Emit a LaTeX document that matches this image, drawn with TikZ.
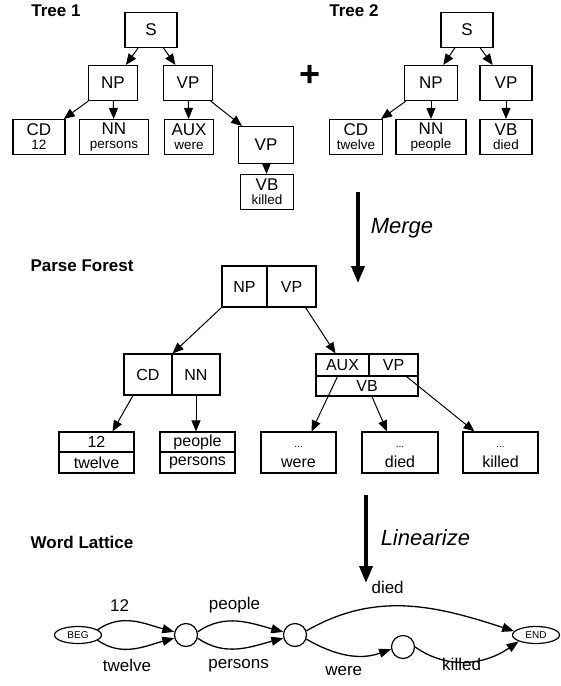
\documentclass[tikz,border=0pt]{standalone}
\usepackage{fontspec}
\setmainfont{Liberation Sans}
\usetikzlibrary{arrows.meta}
\usetikzlibrary{shapes.geometric}

\newcommand{\catfont}{\fontsize{17}{17}\selectfont}
\newcommand{\wordfont}{\fontsize{13.5}{13.5}\selectfont}
\newcommand{\leaffont}{\fontsize{16}{16}\selectfont}
\newcommand{\edgefont}{\fontsize{17}{17}\selectfont}
\newcommand{\headfont}{\fontsize{17}{17}\selectfont\bfseries}
\newcommand{\dotsfont}{\fontsize{10}{10}\selectfont}

\tikzset{
  cat/.style={draw, line width=1.1pt, inner sep=0pt, align=center, minimum height=35pt, font=\catfont},
  cell/.style={draw, line width=1.1pt, inner sep=0pt, align=center, font=\leaffont},
  heading/.style={font=\headfont, inner sep=1pt},
  treearrow/.style={-{Triangle[length=11pt,width=9pt]}, line width=1pt},
  bigarrow/.style={-{Triangle[length=17pt,width=13pt]}, line width=3.5pt},
  latarrow/.style={-{Triangle[length=12pt,width=9pt]}, line width=1.3pt},
  lstate/.style={draw, circle, minimum size=23pt, inner sep=0pt, line width=1.2pt},
  lend/.style={draw, ellipse, minimum width=47pt, minimum height=17pt, inner sep=0pt, line width=1.2pt, font=\dotsfont},
  wlabel/.style={font=\edgefont, inner sep=1pt}
}

\begin{document}
\begin{tikzpicture}[x=1pt,y=1pt]
	 \useasboundingbox (0,0) rectangle (561,-686);
	 %
	 %Tree 1
	 \node at (56,-11) [heading] (tree1) {Tree 1};
	 %
	 \node at (151,-30) [cat,minimum width=52pt] (s1) {S};
	 %
	 \node at (113,-83) [cat,minimum width=49pt] (np1) {NP};
	 %
	 \node at (188,-83) [cat,minimum width=49pt] (vp1) {VP};
	 %
	 \node at (39,-137) [cat,minimum width=52pt] (cd1) {CD\\[-3pt]{\wordfont 12}};
	 %
	 \node at (114,-137) [cat,minimum width=69pt] (nn1) {NN\\[-3pt]{\wordfont persons}};
	 %
	 \node at (189,-137) [cat,minimum width=49pt] (aux1) {AUX\\[-3pt]{\wordfont were}};
	 %
	 \node at (266,-145) [cat,minimum width=55pt,minimum height=37pt] (vpb1) {VP};
	 %
	 \node at (267,-192) [cat,minimum width=53pt] (vb1) {VB\\[-3pt]{\wordfont killed}};
	 %
	 \draw[treearrow] (s1) -- (np1);
	 \draw[treearrow] (s1) -- (vp1);
	 \draw[treearrow] (np1) -- (cd1);
	 \draw[treearrow] (np1) -- (nn1);
	 \draw[treearrow] (vp1) -- (aux1);
	 \draw[treearrow] (vp1) -- (vpb1);
	 \draw[treearrow] (vpb1) -- (vb1);
	 %
	 \node at (310,-76) [font=\fontsize{36}{36}\selectfont\bfseries, inner sep=0pt] (plus) {+};
	 %
	 %Tree 2
	 \node at (354,-11) [heading] (tree2) {Tree 2};
	 %
	 \node at (467,-30) [cat,minimum width=52pt] (s2) {S};
	 %
	 \node at (431,-83) [cat,minimum width=53pt] (np2) {NP};
	 %
	 \node at (506,-83) [cat,minimum width=52pt] (vp2) {VP};
	 %
	 \node at (356,-137) [cat,minimum width=53pt] (cd2) {CD\\[-3pt]{\wordfont twelve}};
	 %
	 \node at (431,-137) [cat,minimum width=70pt] (nn2) {NN\\[-3pt]{\wordfont people}};
	 %
	 \node at (506,-137) [cat,minimum width=52pt] (vb2) {VB\\[-3pt]{\wordfont died}};
	 %
	 \draw[treearrow] (s2) -- (np2);
	 \draw[treearrow] (s2) -- (vp2);
	 \draw[treearrow] (np2) -- (cd2);
	 \draw[treearrow] (np2) -- (nn2);
	 \draw[treearrow] (vp2) -- (vb2);
	 %
	 %Merge
	 \coordinate (mergetop) at (358,-192);
	 \coordinate (mergebot) at (358,-283);
	 \draw[bigarrow] (mergetop) -- node[pos=0.4, right=10pt, font=\fontsize{22}{22}\selectfont\itshape, inner sep=1pt] (merge) {Merge} (mergebot);
	 %
	 %Parse Forest
	 \node at (82,-266) [heading] (forest) {Parse Forest};
	 %
	 \node at (244.5,-286.5) [cell,minimum width=45pt,minimum height=41pt] (fnp) {NP};
	 \node at (291.5,-286.5) [cell,minimum width=49pt,minimum height=41pt] (fvp) {VP};
	 %
	 \node at (148,-374.5) [cell,minimum width=48pt,minimum height=41pt] (fcd) {CD};
	 \node at (196,-374.5) [cell,minimum width=48pt,minimum height=41pt] (fnn) {NN};
	 %
	 \node at (342.5,-365) [cell,minimum width=53pt,minimum height=22pt] (faux) {AUX};
	 \node at (393.5,-365) [cell,minimum width=49pt,minimum height=22pt] (fvpb) {VP};
	 \node at (367,-386) [cell,minimum width=102pt,minimum height=20pt] (fvb) {VB};
	 %
	 \node at (96.5,-442) [cell,minimum width=75pt,minimum height=20pt] (f12) {12};
	 \node at (96.5,-462.5) [cell,minimum width=75pt,minimum height=21pt] (ftwelve) {twelve};
	 \node at (197.5,-442) [cell,minimum width=75pt,minimum height=20pt] (fppl) {people};
	 \node at (197.5,-462.5) [cell,minimum width=75pt,minimum height=21pt] (fpers) {persons};
	 %
	 \node at (298.5,-452.5) [cell,minimum width=75pt,minimum height=41pt] (fwere) {\rule{0pt}{10pt}{\dotsfont ...}\\[4pt]were};
	 \node at (400,-452.5) [cell,minimum width=76pt,minimum height=41pt] (fdied) {\rule{0pt}{10pt}{\dotsfont ...}\\[4pt]died};
	 \node at (500.5,-452.5) [cell,minimum width=75pt,minimum height=41pt] (fkilled) {\rule{0pt}{10pt}{\dotsfont ...}\\[4pt]killed};
	 %
	 %NP-CD/NN
	 \draw[treearrow] (fnp.south west) -- (fcd.north east);
	 %VP-AUX/VP/VB
	 \draw[treearrow] ([xshift=-11pt]fvp.south east) -- ([xshift=-7pt]faux.north);
	 %CD-12
	 \draw[treearrow] ([xshift=-15pt]fcd.south) -- ([xshift=16pt]f12.north);
	 %NN-people
	 \draw[treearrow] (fnn.south) -- (fnn.south |- fppl.north);
	 %AUX-were
	 \draw[treearrow] ([xshift=-5pt]faux.south) -- ([xshift=13pt]fwere.north);
	 %VB-died
	 \draw[treearrow] ([xshift=5pt]fvb.south) -- ([xshift=-13pt]fdied.north);
	 %VP-killed
	 \draw[treearrow] ([xshift=13pt]fvpb.south) -- ([xshift=-26pt]fkilled.north);
	 %
	 %Linearize
	 \coordinate (lintop) at (366,-495);
	 \coordinate (linbot) at (366,-583);
	 \draw[bigarrow] (lintop) -- node[pos=0.48, right=12pt, font=\fontsize{22}{22}\selectfont\itshape, inner sep=1pt] (linearize) {Linearize} (linbot);
	 %
	 %Word Lattice
	 \node at (82,-542) [heading] (lattice) {Word Lattice};
	 %
	 \node at (78,-635) [lend] (beg) {BEG};
	 \node at (186,-635) [lstate] (c1) {};
	 \node at (295,-635) [lstate] (c2) {};
	 \node at (403,-647) [lstate] (c3) {};
	 \node at (536,-635) [lend] (end) {END};
	 %
	 %BEG-c1
	 \draw[latarrow] (beg.15) to[out=35,in=165] node[wlabel,pos=0.3,above=8pt] {12} (c1.165);
	 \draw[latarrow] (beg.-15) to[out=-35,in=195] node[wlabel,pos=0.4,below=8pt] {twelve} (c1.195);
	 %c1-c2
	 \draw[latarrow] (c1.15) to[out=35,in=165] node[wlabel,pos=0.45,above=6pt] {people} (c2.165);
	 \draw[latarrow] (c1.-15) to[out=-35,in=195] node[wlabel,pos=0.5,below=9pt] {persons} (c2.195);
	 %c2-END
	 \draw[latarrow] (c2.20) to[out=30,in=162] node[wlabel,pos=0.4,above=11pt] {died} (end.170);
	 %c2-c3
	 \draw[latarrow] (c2.-20) to[out=-30,in=200] node[wlabel,pos=0.45,below=11pt] {were} (c3.190);
	 %c3-END
	 \draw[latarrow] (c3.0) to[out=-35,in=215] node[wlabel,pos=0.45,below=-5pt] {killed} (end.200);
\end{tikzpicture}
\end{document}
